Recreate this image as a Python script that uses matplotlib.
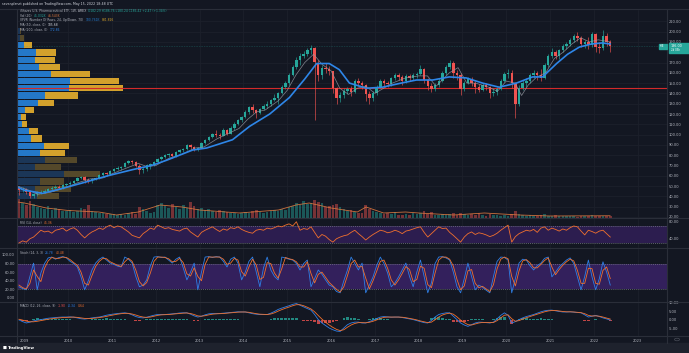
import matplotlib
matplotlib.use('Agg')
import matplotlib.pyplot as plt
import numpy as np

# ---------------- data (monthly, Nov 2008 .. May 2022) ----------------
start_year, start_month = 2008, 11
first_open = 48
close = [46, 47,
         44, 40, 42, 43, 44, 45, 47, 48, 49, 48, 51, 52,
         53, 55, 58, 59, 56, 55, 57, 58, 61, 63, 62, 65,
         67, 68, 69, 72, 74, 73, 70, 66, 67, 70, 71, 73,
         76, 78, 80, 81, 79, 83, 85, 86, 90, 88, 86, 87,
         92, 95, 98, 101, 100, 99, 104, 101, 106, 110, 114, 117,
         122, 127, 124, 121, 125, 128, 130, 134, 136, 140, 146, 150,
         158, 166, 172, 176, 178, 182, 184, 170, 158, 165, 164, 162,
         145, 136, 138, 142, 144, 141, 152, 150, 148, 139, 136, 140,
         146, 152, 150, 149, 155, 158, 156, 152, 157, 155, 158, 159,
         164, 153, 147, 144, 148, 152, 160, 166, 170, 160, 158, 144,
         150, 154, 150, 146, 143, 148, 146, 140, 141, 144, 152, 159,
         160, 150, 130, 145, 150, 152, 158, 160, 158, 155, 168, 176,
         180, 176, 182, 186, 188, 192, 196, 194, 188, 190, 187, 198,
         185, 184, 196, 190, 186]
high = [50, 49,
        48, 45, 43, 45, 46, 47, 48, 50, 51, 51, 52, 53,
        55, 56, 59, 60, 60, 58, 58, 59, 62, 64, 64, 66,
        68, 70, 70, 73, 75, 75, 74, 71, 69, 71, 72, 74,
        77, 79, 81, 82, 82, 84, 86, 87, 91, 91, 89, 88,
        93, 96, 99, 102, 104, 102, 106, 105, 108, 112, 115, 118,
        124, 128, 130, 125, 126, 130, 133, 135, 139, 141, 148, 152,
        160, 168, 175, 179, 181, 184, 187, 185, 172, 168, 170, 167,
        162, 146, 141, 145, 146, 147, 154, 155, 152, 149, 142, 142,
        148, 154, 154, 152, 156, 160, 160, 158, 159, 159, 160, 161,
        168, 165, 155, 150, 150, 155, 162, 168, 172, 171, 163, 160,
        152, 156, 156, 152, 149, 150, 150, 147, 145, 146, 154, 161,
        164, 163, 151, 148, 153, 155, 160, 163, 162, 164, 170, 178,
        184, 182, 183, 188, 190, 194, 198, 200, 196, 192, 195, 200,
        199, 190, 202, 199, 192]
low = [41, 44,
       42, 38, 38, 40, 42, 43, 44, 46, 47, 47, 47, 50,
       51, 52, 55, 57, 53, 53, 53, 56, 57, 60, 60, 61,
       64, 66, 66, 69, 71, 71, 69, 62, 63, 65, 67, 70,
       72, 75, 77, 78, 77, 78, 82, 83, 85, 86, 84, 84,
       87, 91, 94, 97, 98, 96, 99, 100, 101, 104, 109, 112,
       116, 120, 121, 116, 120, 124, 126, 128, 133, 130, 139, 144,
       148, 157, 164, 168, 174, 176, 178, 114, 152, 154, 160, 158,
       140, 130, 132, 136, 139, 137, 140, 147, 144, 133, 130, 133,
       138, 145, 147, 146, 147, 153, 153, 148, 150, 152, 153, 155,
       158, 150, 143, 141, 142, 146, 151, 158, 164, 155, 153, 138,
       142, 149, 147, 140, 141, 142, 143, 136, 137, 138, 143, 151,
       155, 145, 116, 128, 143, 146, 150, 155, 153, 152, 154, 166,
       174, 173, 173, 180, 183, 186, 190, 191, 185, 184, 183, 185,
       180, 179, 182, 186, 180]
volume_k = [380, 300,
            260, 340, 280, 220, 200, 180, 240, 160, 200, 180, 150, 140,
            160, 120, 140, 200, 180, 260, 150, 120, 100, 110, 90, 80,
            90, 70, 80, 60, 100, 120, 90, 220, 180, 140, 100, 120,
            260, 300, 240, 200, 280, 220, 180, 260, 200, 320, 240, 180,
            200, 160, 180, 140, 120, 160, 140, 120, 100, 110, 90, 100,
            120, 110, 140, 160, 130, 100, 120, 140, 160, 150, 180, 170,
            220, 240, 300, 260, 340, 280, 300, 360, 320, 300, 220, 240,
            260, 280, 220, 180, 140, 160, 120, 100, 110, 260, 180, 140,
            120, 100, 90, 110, 80, 120, 70, 60, 90, 60, 100, 80,
            110, 140, 80, 120, 70, 60, 90, 70, 80, 100, 70, 110,
            90, 60, 80, 70, 100, 60, 50, 80, 60, 70, 50, 60,
            50, 80, 140, 90, 60, 50, 60, 40, 50, 60, 80, 50,
            40, 60, 50, 40, 50, 40, 45, 30, 40, 50, 35, 60,
            50, 45, 40, 50, 45]
vol_ma_years = [2008.84, 2009.0, 2009.5, 2010.0, 2010.7, 2011.1, 2011.6, 2012.1, 2012.6, 2013.0,
                2013.9, 2014.8, 2015.2, 2015.5, 2016.0, 2016.6, 2016.8, 2017.2, 2017.7, 2018.0,
                2018.8, 2019.5, 2020.3, 2021.0, 2022.37]
vol_ma_k = [320, 300, 200, 150, 120, 60, 120, 260, 220, 160,
            100, 160, 260, 300, 200, 120, 220, 100, 120, 100,
            60, 100, 60, 40, 45]

ma_slow_years = [2008.84, 2009.0, 2009.41, 2009.8, 2010.32, 2010.9, 2011.47, 2011.9, 2012.24, 2012.84,
                 2013.16, 2013.75, 2014.14, 2014.6, 2015.05, 2015.4, 2015.67, 2015.96, 2016.19, 2016.42,
                 2016.81, 2017.17, 2017.6, 2017.95, 2018.32, 2018.7, 2019.09, 2019.46, 2019.84, 2020.23,
                 2020.6, 2020.83, 2021.15, 2021.4, 2021.67, 2021.95, 2022.19, 2022.37]
ma_slow = [49, 46, 43, 47, 53, 60, 66, 70, 75, 85,
           87, 95, 108, 120, 136, 154, 169, 169, 163, 150,
           145, 146, 150, 153, 153, 156, 155, 150, 146, 150,
           156, 156, 169, 178, 185, 188, 189, 188]
ma_fast_years = [2008.84, 2009.1, 2009.3, 2009.6, 2009.9, 2010.2, 2010.5, 2010.8, 2011.0, 2011.3,
                 2011.6, 2011.8, 2012.0, 2012.3, 2012.6, 2012.9, 2013.1, 2013.4, 2013.6, 2013.9,
                 2014.1, 2014.3, 2014.5, 2014.8, 2015.0, 2015.2, 2015.4, 2015.6, 2015.8, 2016.0,
                 2016.2, 2016.4, 2016.6, 2016.8, 2017.0, 2017.2, 2017.4, 2017.7, 2018.0, 2018.2,
                 2018.4, 2018.7, 2018.9, 2019.1, 2019.3, 2019.6, 2019.8, 2020.0, 2020.2, 2020.35,
                 2020.5, 2020.7, 2020.9, 2021.1, 2021.3, 2021.5, 2021.7, 2021.9, 2022.1, 2022.37]
ma_fast = [50, 46, 42, 44, 48, 53, 57, 58, 62, 67,
           72, 69, 70, 77, 81, 87, 88, 96, 100, 106,
           115, 122, 124, 133, 143, 158, 170, 178, 168, 162,
           145, 139, 145, 147, 140, 145, 150, 155, 157, 157,
           147, 160, 165, 150, 150, 146, 142, 152, 150, 138,
           148, 156, 160, 174, 180, 188, 194, 190, 192, 190]

# Volume profile (rows bottom -> top)
vp_price_low, vp_price_high = 37.0, 204.0
vp_up = [60, 55, 70, 140, 53, 85, 70, 80, 42, 35, 15, 12, 23, 63, 85, 155, 160, 103, 65, 55, 57, 20, 10, 8]
vp_down = [65, 108, 70, 110, 80, 96, 75, 77, 33, 28, 16, 16, 27, 47, 97, 162, 147, 117, 63, 58, 60, 25, 12, 5]
vp_value_area = (6, 21)   # row index range (inclusive) highlighted

rsi = [30, 35, 32, 40, 44, 52, 60, 56, 58, 53, 60, 62, 65, 58, 63, 66, 60, 50, 42, 50,
       56, 60, 65, 62, 68, 72, 66, 70, 68, 62, 56, 48, 45, 42, 52, 58, 65, 62, 72, 68,
       64, 66, 62, 60, 58, 63, 65, 56, 50, 44, 55, 60, 64, 68, 62, 57, 63, 60, 66, 64,
       68, 62, 58, 55, 53, 60, 62, 60, 65, 63, 66, 70, 68, 72, 75, 70, 80, 60, 64, 62,
       68, 55, 42, 50, 46, 38, 32, 40, 44, 47, 49, 55, 60, 52, 45, 37, 44, 50, 55, 60,
       58, 54, 56, 60, 57, 52, 58, 60, 63, 66, 68, 55, 44, 52, 60, 68, 64, 65, 55, 48,
       40, 32, 44, 52, 56, 50, 54, 52, 49, 45, 48, 53, 60, 66, 72, 32, 45, 52, 56, 60,
       58, 62, 55, 65, 68, 60, 65, 62, 58, 63, 60, 66, 70, 68, 58, 49, 60, 57, 53, 58,
       60, 52, 44]
stoch_k = [26, 22, 19, 50, 81, 19, 58, 80, 93, 95, 90, 94, 96, 93, 85, 80, 72, 49, 19, 40,
           65, 81, 90, 95, 88, 81, 78, 74, 72, 95, 90, 81, 50, 26, 30, 42, 75, 95, 96, 94,
           95, 88, 81, 90, 95, 70, 42, 60, 81, 19, 60, 95, 96, 94, 96, 95, 85, 72, 90, 95,
           81, 42, 60, 85, 95, 60, 26, 70, 95, 65, 50, 42, 95, 93, 90, 88, 80, 65, 80, 88,
           26, 45, 65, 55, 42, 30, 26, 15, 12, 40, 65, 95, 80, 65, 81, 12, 30, 49, 75, 95,
           80, 58, 26, 35, 49, 65, 81, 50, 26, 60, 88, 50, 12, 35, 80, 95, 96, 93, 88, 60,
           26, 12, 45, 81, 50, 19, 30, 25, 18, 12, 50, 85, 95, 94, 88, 12, 45, 81, 90, 88,
           75, 65, 75, 81, 92, 95, 49, 60, 72, 80, 88, 93, 80, 49, 19, 50, 88, 49, 19, 45,
           84, 60, 30]
stoch_d = [30, 24, 21, 34, 65, 50, 38, 69, 86, 94, 92, 92, 95, 94, 89, 82, 76, 60, 34, 30,
           52, 73, 85, 92, 91, 84, 80, 76, 73, 84, 92, 85, 65, 38, 28, 36, 58, 85, 95, 95,
           94, 91, 84, 85, 92, 82, 56, 51, 70, 50, 40, 78, 95, 95, 95, 95, 90, 78, 81, 92,
           88, 61, 51, 72, 90, 77, 43, 48, 82, 80, 58, 46, 68, 94, 91, 89, 84, 72, 72, 84,
           57, 35, 55, 60, 48, 36, 28, 20, 14, 26, 52, 80, 88, 72, 73, 46, 21, 40, 62, 85,
           88, 69, 42, 30, 42, 57, 73, 66, 38, 43, 74, 69, 31, 24, 58, 88, 95, 95, 90, 74,
           43, 19, 28, 63, 66, 34, 24, 27, 21, 15, 31, 68, 90, 95, 91, 50, 28, 63, 86, 89,
           82, 70, 70, 78, 87, 93, 72, 54, 66, 76, 84, 90, 86, 64, 34, 34, 69, 68, 34, 32,
           64, 72, 45]
macd = [-0.2, -1.2, -2.0, -1.5, -0.8, -0.3, 0.0, 0.4, 0.8, 1.0, 1.2, 1.4, 1.5, 1.5, 1.6, 1.4, 1.0, 0.5, 0.3, 0.6,
        1.0, 1.3, 1.5, 2.0, 2.6, 3.0, 3.3, 3.6, 3.8, 4.0, 3.6, 2.8, 1.8, 1.2, 1.0, 1.4, 2.0, 2.6, 3.0, 3.0,
        3.0, 3.2, 3.4, 3.6, 3.9, 4.0, 4.0, 3.2, 2.2, 1.5, 2.0, 2.8, 3.4, 3.6, 3.5, 3.6, 3.8, 4.0, 4.2, 4.4,
        4.6, 4.5, 4.5, 4.0, 3.5, 3.2, 3.0, 3.0, 3.0, 3.8, 4.8, 6.0, 6.8, 7.5, 8.2, 9.0, 9.5, 8.5, 7.5, 6.5,
        5.6, 3.0, 0.0, -2.0, -3.5, -5.0, -6.0, -6.8, -7.0, -5.0, -3.0, -2.0, -1.5, -1.5, -2.0, -2.0, -1.2, -0.3, 0.6, 1.5,
        1.8, 1.6, 1.4, 1.5, 1.5, 1.2, 0.8, 0.4, 0.0, -0.6, -1.2, -1.8, -2.0, -0.5, 1.5, 3.0, 3.6, 4.0, 4.0, 2.0,
        0.0, -2.0, -3.2, -4.0, -3.0, -2.0, -1.5, -1.6, -1.8, -2.0, -1.5, 0.5, 2.5, 4.0, 2.5, -2.0, -1.2, 0.0, 1.0, 1.8,
        2.4, 3.0, 3.8, 4.6, 5.2, 5.5, 5.6, 5.2, 4.8, 4.5, 4.5, 4.6, 4.4, 4.2, 4.0, 2.8, 1.5, 2.0, 2.5, 1.8,
        1.0, 0.4, -0.3]
macd_signal = [0.2, -0.3, -0.9, -1.3, -1.3, -1.0, -0.6, -0.2, 0.2, 0.5, 0.8, 1.0, 1.2, 1.3, 1.4, 1.5, 1.3, 1.0, 0.7, 0.6,
               0.7, 0.9, 1.2, 1.5, 1.9, 2.4, 2.8, 3.2, 3.5, 3.7, 3.7, 3.3, 2.7, 2.0, 1.5, 1.3, 1.5, 2.0, 2.5, 2.8,
               2.9, 3.0, 3.2, 3.4, 3.6, 3.8, 3.9, 3.6, 3.0, 2.2, 2.0, 2.3, 2.8, 3.2, 3.4, 3.5, 3.6, 3.8, 4.0, 4.2,
               4.4, 4.5, 4.5, 4.3, 3.9, 3.5, 3.2, 3.1, 3.0, 3.3, 4.0, 5.0, 5.9, 6.7, 7.4, 8.2, 8.8, 8.8, 8.2, 7.3,
               6.3, 4.6, 2.4, 0.3, -1.6, -3.2, -4.6, -5.8, -6.5, -6.0, -4.5, -3.2, -2.3, -1.8, -1.8, -1.9, -1.6, -1.0, -0.2, 0.7,
               1.3, 1.5, 1.5, 1.5, 1.5, 1.4, 1.1, 0.7, 0.3, -0.2, -0.8, -1.3, -1.8, -1.5, -0.1, 1.5, 2.7, 3.4, 3.8, 3.2,
               1.6, -0.3, -1.8, -3.0, -3.2, -2.6, -2.0, -1.7, -1.7, -1.8, -1.7, -0.6, 1.0, 2.6, 2.8, 0.5, -1.0, -0.6, 0.3, 1.1,
               1.8, 2.5, 3.2, 3.9, 4.6, 5.1, 5.4, 5.4, 5.1, 4.8, 4.6, 4.6, 4.5, 4.3, 4.1, 3.5, 2.5, 2.1, 2.2, 2.0,
               1.5, 0.9, 0.3]

year_labels = ['2009', '2010', '2011', '2012', '2013', '2014', '2015', '2016',
               '2017', '2018', '2019', '2020', '2021', '2022', '2023']
price_ticks = [20, 30, 40, 50, 60, 70, 80, 90, 100, 110, 120, 130, 140, 150, 160, 170, 190, 200, 210]
rsi_ticks = [80, 40]
stoch_ticks = [0, 20, 40, 60, 80, 100]
macd_ticks = [-5, 0, 5, 10]

# ---------------- styling ----------------
W, H = 689, 353
BG = '#131722'
GRID = '#1c202b'
SEP = '#2a2e39'
TXT = '#b2b5be'
UP = '#26a69a'
DN = '#ef5350'
BLUE = '#2f7fe6'
ORANGE = '#f0702e'
PURPLE = '#2c1d4f'
FS = 2.6
plt.rcParams['font.family'] = ['DejaVu Sans']

fig = plt.figure(figsize=(W / 100, H / 100), dpi=100)
fig.patch.set_facecolor(BG)


def rect(x0, y0, x1, y1):
    return [x0 / W, 1 - y1 / H, (x1 - x0) / W, (y1 - y0) / H]


X0, X1 = 17, 667
XL = (2008.83, 2008.83 + (X1 - X0) / 43.8)

n = len(close)
t = np.array([start_year + (start_month - 1 + k + 0.5) / 12 for k in range(n)])
close = np.array(close, float)
opn = np.concatenate([[first_open], close[:-1]])
high = np.array(high, float)
low = np.array(low, float)
up = close >= opn
years = [int(y) for y in year_labels]


def base(ax, ylim):
    ax.set_xlim(*XL)
    ax.set_ylim(*ylim)
    for s in ax.spines.values():
        s.set_visible(False)
    ax.tick_params(length=0, labelsize=FS, colors=TXT, pad=1.5)
    ax.set_xticks([])


def clean(ax):
    ax.set_facecolor('none')
    for s in ax.spines.values():
        s.set_visible(False)
    ax.set_xticks([])
    ax.set_yticks([])


# ---- main pane background + grid + price scale ----
PYL = (20 - 1 / 1.03, 20 + 207 / 1.03)
ax_bg = fig.add_axes(rect(X0, 10, X1, 218))
ax_bg.set_facecolor(BG)
base(ax_bg, PYL)
ax_bg.yaxis.tick_right()
ax_bg.set_yticks(price_ticks)
ax_bg.set_yticklabels([f'{v:.2f}' for v in price_ticks])
for y in years:
    ax_bg.axvline(y, color=GRID, lw=0.6, zorder=0)
for p in price_ticks:
    ax_bg.axhline(p, color=GRID, lw=0.6, zorder=0)

# ---- volume ----
ax_vol = fig.add_axes(rect(X0, 10, X1, 218))
clean(ax_vol)
ax_vol.set_xlim(*XL)
ax_vol.set_ylim(0, 4160)
vcol = np.where(up, UP, DN)
ax_vol.bar(t, volume_k, width=0.06, color=vcol, alpha=0.45, linewidth=0)
ax_vol.plot(vol_ma_years, vol_ma_k, color='#e07a3f', lw=0.6, alpha=0.9)

# ---- volume profile ----
ax_vp = fig.add_axes(rect(X0, 10, X1, 218))
clean(ax_vp)
ax_vp.set_xlim(0, (X1 - X0) * 3)
ax_vp.set_ylim(*PYL)
rows = len(vp_up)
rh = (vp_price_high - vp_price_low) / rows
centers = vp_price_low + rh * (np.arange(rows) + 0.5)
vu = np.array(vp_up, float)
vd = np.array(vp_down, float)
in_va = (np.arange(rows) >= vp_value_area[0]) & (np.arange(rows) <= vp_value_area[1])
cu = np.where(in_va, '#2478c8', '#1b3657')
cd = np.where(in_va, '#d3a12c', '#54482a')
ax_vp.barh(centers, vu, height=rh * 0.86, color=cu, linewidth=0)
ax_vp.barh(centers, vd, left=vu, height=rh * 0.86, color=cd, linewidth=0)
poc = centers[np.argmax(vu + vd)]

# ---- price candles ----
ax = fig.add_axes(rect(X0, 10, X1, 218))
clean(ax)
ax.set_xlim(*XL)
ax.set_ylim(*PYL)
ax.axhline(poc, color='#d42a2a', lw=0.8, zorder=1)
ccol = np.where(up, UP, DN)
ax.vlines(t, low, high, color=ccol, lw=0.45, zorder=2)
body = np.where(np.abs(close - opn) < 0.4, 0.4, close - opn)
ax.bar(t, body, bottom=opn, width=0.055, color=ccol, linewidth=0, zorder=3)
ax.plot(ma_fast_years, ma_fast, color='#9598a1', lw=0.5, alpha=0.85, zorder=4)
ax.plot(ma_slow_years, ma_slow, color='#2e86e8', lw=1.2, zorder=5)
ax.axhline(close[-1], color=UP, lw=0.4, ls=(0, (1, 2)), alpha=0.7, zorder=1)

# ---- RSI ----
ax_r = fig.add_axes(rect(X0, 218, X1, 248))
ax_r.set_facecolor(BG)
base(ax_r, (18.2, 88.8))
ax_r.yaxis.tick_right()
ax_r.set_yticks(rsi_ticks)
ax_r.set_yticklabels([f'{v:.2f}' for v in rsi_ticks])
for y in years:
    ax_r.axvline(y, color=GRID, lw=0.6, zorder=0)
ax_r.axhspan(30, 70, color=PURPLE, lw=0, zorder=0.5)
for lv in (30, 70):
    ax_r.axhline(lv, color='#787b86', lw=0.5, ls=(0, (1.5, 1.5)), zorder=1)
ax_r.plot(t, rsi, color=ORANGE, lw=0.6, zorder=2)

# ---- Stoch ----
ax_s = fig.add_axes(rect(X0, 248, X1, 302))
ax_s.set_facecolor(BG)
base(ax_s, (-9.3, 116))
ax_s.set_yticks(stoch_ticks)
ax_s.set_yticklabels([f'{v:.2f}' for v in stoch_ticks])
ax_s.tick_params(axis='y', pad=1.5)
for y in years:
    ax_s.axvline(y, color=GRID, lw=0.6, zorder=0)
ax_s.axhspan(20, 80, color='#33205c', lw=0, zorder=0.5)
for lv in (20, 80):
    ax_s.axhline(lv, color='#787b86', lw=0.5, ls=(0, (1.5, 1.5)), zorder=1)
ax_s.plot(t, stoch_k, color=BLUE, lw=0.6, zorder=2)
ax_s.plot(t, stoch_d, color=ORANGE, lw=0.6, zorder=2)

# ---- MACD ----
ax_m = fig.add_axes(rect(X0, 302, X1, 336))
ax_m.set_facecolor(BG)
base(ax_m, (-9.7, 10.4))
ax_m.yaxis.tick_right()
ax_m.set_yticks(macd_ticks)
ax_m.set_yticklabels([f'{v:.2f}' for v in macd_ticks])
for y in years:
    ax_m.axvline(y, color=GRID, lw=0.6, zorder=0)
hist = np.array(macd) - np.array(macd_signal)
hcol = np.where(hist >= 0, '#26a69a', '#ef5350')
ax_m.bar(t, hist, width=0.06, color=hcol, alpha=0.8, linewidth=0, zorder=1)
ax_m.plot(t, macd, color=BLUE, lw=0.6, zorder=2)
ax_m.plot(t, macd_signal, color=ORANGE, lw=0.6, zorder=2)
ax_m.set_xticks(years)
ax_m.set_xticklabels(year_labels)
ax_m.tick_params(axis='x', length=0, labelsize=FS, colors=TXT, pad=2.2)


# ---- frame lines ----
def hline_px(y, x0=0, x1=W, c=SEP, lw=0.8):
    fig.add_artist(plt.Line2D([x0 / W, x1 / W], [1 - y / H, 1 - y / H], color=c, lw=lw))


def vline_px(x, y0, y1, c=SEP, lw=0.8):
    fig.add_artist(plt.Line2D([x / W, x / W], [1 - y0 / H, 1 - y1 / H], color=c, lw=lw))


for yy in (218, 248, 302, 336):
    hline_px(yy, 0, W)
hline_px(9, 0, W)
vline_px(X0, 9, 343)
vline_px(X1, 9, 343)

# bottom strip
fig.patches.append(plt.Rectangle((0, 0), 1, 10 / H, transform=fig.transFigure,
                                 color='#1e222d', zorder=0))
fig.text(3 / W, 1 - 348 / H, '\u25A0', color='white', fontsize=3, va='center')
fig.text(8 / W, 1 - 348 / H, 'TradingView', color='white', fontsize=2.8,
         fontweight='bold', va='center')
fig.patches.append(plt.Circle((677 / W, 1 - 339.5 / H), 2.5 / W, transform=fig.transFigure,
                              fill=False, ec='#4a4e59', lw=0.5))

# header
fig.text(2 / W, 1 - 4.5 / H, 'sevenplanet published on TradingView.com, May 15, 2022 18:48 UTC',
         color='#d1d4dc', fontsize=2.3, va='center')


def seg_text(x, y, parts, fs=2.2):
    r = fig.canvas.get_renderer()
    for s, c in parts:
        tt = fig.text(x / W, 1 - y / H, s, color=c, fontsize=fs, va='center')
        bb = tt.get_window_extent(renderer=r)
        x += bb.width + 2


seg_text(20, 11.2, [('iShares U.S. Pharmaceutical ETF, 1W, AMEX', TXT),
                    ('O182.29 H186.76 L180.24 C186.42 +2.47 (+1.34%)', UP)])
seg_text(20, 15.7, [('Vol (20)', TXT), ('45.032K', UP), ('46.543K', '#e07a3f')])
seg_text(20, 20.3, [('VPVR (Number Of Rows, 24, Up/Down, 70)', TXT), ('180.761K', '#2478c8'),
                    ('881.826', '#d3a12c')])
seg_text(20, 25.0, [('MA (50, close, 0)', TXT), ('185.68', '#d1d4dc')])
seg_text(20, 29.6, [('MA (200, close, 0)', TXT), ('172.86', '#2e86e8')])
seg_text(20, 222.5, [('RSI (14, close)', TXT), ('45.36', ORANGE)])
seg_text(20, 253.0, [('Stoch (14, 3, 3)', TXT), ('26.78', BLUE), ('40.48', ORANGE)])
seg_text(20, 306.0, [('MACD (12, 26, close, 9)', TXT), ('-1.90', DN), ('-0.34', BLUE), ('0.64', ORANGE)])

# current price label
py = 217 - (close[-1] - 20) * 1.03
fig.patches.append(plt.Rectangle((669 / W, 1 - (py + 6.5) / H), 20 / W, 9.5 / H,
                                 transform=fig.transFigure, color=UP, zorder=5))
fig.text(671 / W, 1 - (py + 0.2) / H, f'{close[-1]:.2f}', color='white', fontsize=2.4,
         va='center', zorder=6)
fig.text(671 / W, 1 - (py + 4.0) / H, '2d 05h', color='white', fontsize=1.9,
         va='center', zorder=6)
fig.patches.append(plt.Rectangle((659 / W, 1 - (py + 2.5) / H), 8 / W, 5 / H,
                                 transform=fig.transFigure, color=UP, zorder=5))
fig.text(660 / W, 1 - py / H, 'IHE', color='white', fontsize=2.0, va='center', zorder=6)

fig.savefig('out.png', dpi=100, facecolor=BG)
